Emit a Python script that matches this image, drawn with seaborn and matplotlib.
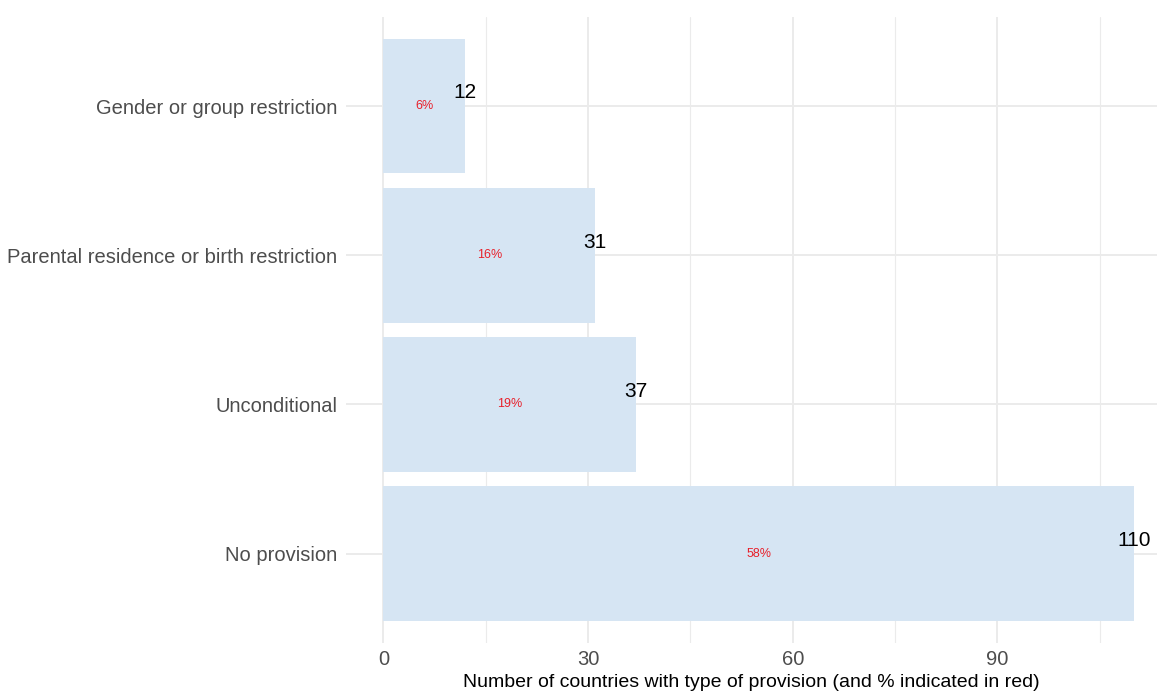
import matplotlib
matplotlib.use("Agg")
import matplotlib.pyplot as plt
import seaborn as sns
import pandas as pd
from matplotlib.ticker import MultipleLocator

categories = ["Gender or group restriction", "Parental residence or birth restriction",
              "Unconditional", "No provision"]
counts = [12, 31, 37, 110]
percents = ["6%", "16%", "19%", "58%"]
x_ticks = [0, 30, 60, 90]
xlabel = "Number of countries with type of provision (and % indicated in red)"

df = pd.DataFrame({"category": categories, "count": counts, "pct": percents})

sns.set_theme(style="white")
plt.rcParams["font.family"] = ["Liberation Sans", "DejaVu Sans"]

fig = plt.figure(figsize=(11.57, 6.93), dpi=100)
ax = fig.add_axes([0.299, 0.0722, 0.701, 0.9033])

sns.barplot(data=df, x="count", y="category", order=categories, orient="h",
            color="#D6E5F3", width=0.9, saturation=1, linewidth=0, ax=ax, zorder=2)

for i, (c, p) in enumerate(zip(counts, percents)):
    ax.text(c, i - 0.09, str(c), ha="center", va="center", fontsize=15, color="black", zorder=3)
    ax.text(c / 2, i, p, ha="center", va="center", fontsize=9, color="#E8202A", zorder=3)

ax.set_xlim(-5.5, 113.4)
ax.set_ylim(3.6, -0.6)
ax.set_xticks(x_ticks)
ax.xaxis.set_minor_locator(MultipleLocator(15))
ax.grid(which="major", axis="both", color="#EBEBEB", linewidth=1.4, zorder=0)
ax.grid(which="minor", axis="x", color="#EBEBEB", linewidth=0.8, zorder=0)
ax.set_axisbelow(True)
for s in ax.spines.values():
    s.set_visible(False)
ax.tick_params(axis="both", length=0, labelsize=14.5, labelcolor="#4D4D4D")
ax.tick_params(axis="y", pad=6)
ax.tick_params(axis="x", pad=5)
ax.tick_params(axis="x", which="minor", length=0)
ax.set_ylabel("")
ax.set_xlabel(xlabel, fontsize=14, color="black", labelpad=4)

fig.savefig("out.png", dpi=100)
